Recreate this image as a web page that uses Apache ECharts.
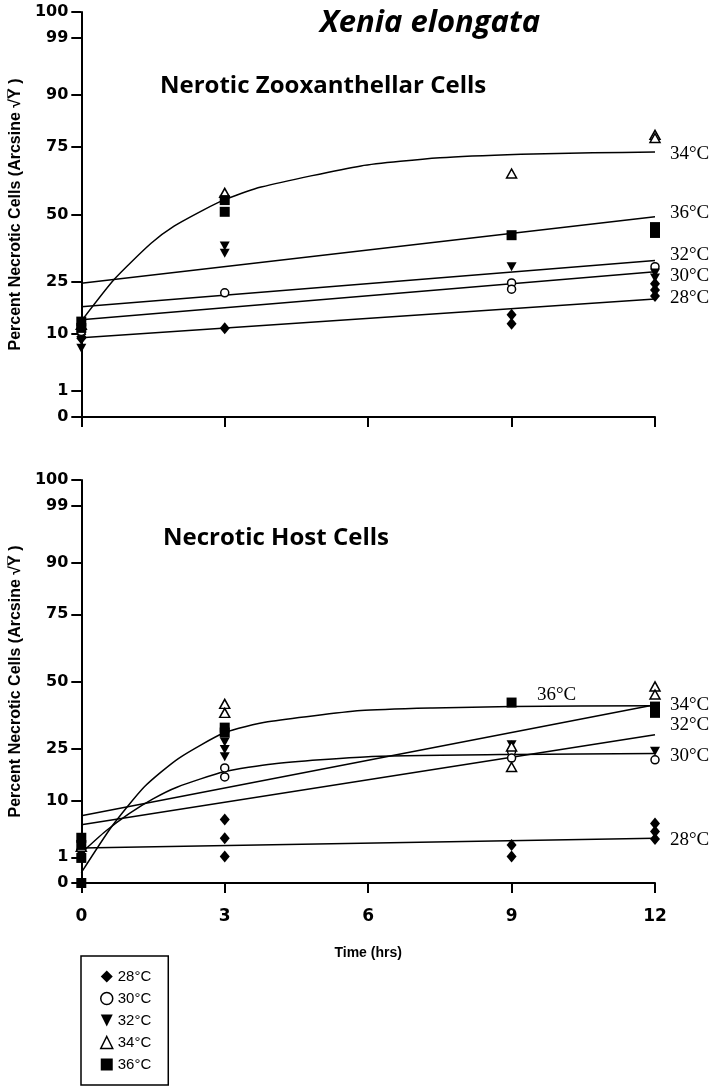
<!DOCTYPE html>
<html>
<head>
<meta charset="utf-8">
<script src="https://cdn.jsdelivr.net/npm/echarts@6/dist/echarts.min.js"></script>
<style>
html,body{margin:0;padding:0;background:#fff;}
#chart{width:718px;height:1092px;}
</style>
</head>
<body>
<div id="chart"></div>
<script>
// ---- Data (y values in arcsine-transformed degrees, as plotted) ----
const times = [0, 3, 9, 12];
const tickPercent = [0, 1, 10, 25, 50, 75, 90, 99, 100];
const temps = ['28°C', '30°C', '32°C', '34°C', '36°C'];

// Necrotic zooxanthellar cells (top panel): values per time point
const zoo28 = [[18.4, 17.5], [19.7], [22.7, 20.7], [29.6, 28.2, 26.9]];
const zoo30 = [[19.0], [27.6], [29.8, 28.4], [33.4]];
const zoo32 = [[15.3, 17.0], [38.0, 36.4], [33.4], [32.0, 30.9]];
const zoo34 = [[20.5], [49.8], [54.1], [62.7, 62.0]];
const zoo36 = [[21.2, 19.8], [48.2, 45.6], [40.4], [42.2, 40.9]];

// Fitted lines (top)
const fitT = [0, 12];
const zooFit28 = [17.6, 26.2];
const zooFit30 = [21.6, 32.3];
const zooFit32 = [24.5, 34.8];
const zooFit36 = [29.7, 44.5];
const zooFit34T = [0, 0.69, 1.46, 1.94, 2.57, 2.98, 3.76, 5.85, 7.5, 9.2, 10.7, 12];
const zooFit34 = [21.3, 30.6, 38.6, 42.4, 46.1, 48.2, 51.1, 55.8, 57.6, 58.4, 58.7, 58.9];

// Necrotic host cells (bottom panel)
const host28 = [[7.5], [14.2, 10.0, 5.9], [8.5, 5.9], [13.3, 11.5, 9.8]];
const host30 = [[7.4], [25.7, 23.7], [29.4, 27.9], [27.5]];
const host32 = [[6.5], [31.5, 29.8, 28.2], [30.9], [29.4]];
const host34 = [[8.1], [40.0, 38.0], [30.5, 25.9], [43.9, 42.1]];
const host36 = [[10.1, 8.5, 5.6, 0], [34.7, 33.6], [40.3], [39.4, 38.0]];

// Fitted lines (bottom)
const hostFit28 = [7.8, 10.0];
const hostFit32 = [13.0, 33.1];
const hostFit34 = [15.0, 39.8];
const hostFit36T = [0, 0.63, 1.32, 2.03, 3, 3.9, 5.85, 7.35, 9, 12];
const hostFit36 = [2.3, 12.5, 21.5, 27.8, 33.6, 36.0, 38.5, 39.1, 39.4, 39.6];
const hostFit30T = [0, 0.5, 1, 1.5, 2, 3, 4, 6, 9, 12];
const hostFit30 = [6.7, 11.5, 15.5, 18.8, 21.4, 24.9, 26.6, 28.2, 28.7, 28.9];

// ---- helpers ----
const toDeg = p => Math.asin(Math.sqrt(p / 100)) * 180 / Math.PI;
const tickPos = tickPercent.map(toDeg);
function labelFor(v) {
  let best = 0, bd = 1e9;
  tickPos.forEach((t, i) => { const d = Math.abs(t - v); if (d < bd) { bd = d; best = i; } });
  return String(tickPercent[best]);
}
function pts(groups) {
  const out = [];
  groups.forEach((g, i) => g.forEach(v => out.push([times[i], v])));
  return out;
}
function pairs(xs, ys) { return xs.map((x, i) => [x, ys[i]]); }

const symbols = {
  '28°C': { symbol: 'diamond', size: [10, 12], fill: '#000', rot: 0, icon: 'diamond' },
  '30°C': { symbol: 'circle', size: 8, fill: '#fff', rot: 0, icon: 'circle' },
  '32°C': { symbol: 'triangle', size: [10, 9], fill: '#000', rot: 180, icon: 'path://M0,0 L10,0 L5,10 Z' },
  '34°C': { symbol: 'triangle', size: [10, 9], fill: '#fff', rot: 0, icon: 'triangle' },
  '36°C': { symbol: 'rect', size: 10, fill: '#000', rot: 0, icon: 'rect' }
};

function scatter(name, data, idx) {
  const s = symbols[name];
  return {
    name, type: 'scatter', xAxisIndex: idx, yAxisIndex: idx, z: 4,
    symbol: s.symbol, symbolSize: s.size, symbolRotate: s.rot,
    itemStyle: { color: s.fill, borderColor: '#000', borderWidth: s.fill === '#fff' ? 1.5 : 0, opacity: 1 },
    data: pts(data), silent: true
  };
}
const labelFont = { fontFamily: 'Liberation Serif', fontSize: 19, color: '#000' };
function fitLine(id, xs, ys, idx, label, off, smooth) {
  return {
    name: id, type: 'line', xAxisIndex: idx, yAxisIndex: idx, z: 3,
    data: pairs(xs, ys), showSymbol: false, symbol: 'none',
    smooth: smooth ? 0.2 : false,
    lineStyle: { color: '#000', width: 1.5 }, silent: true,
    endLabel: Object.assign({ show: true, formatter: label, distance: 15, offset: off }, labelFont)
  };
}

function yAxis(idx) {
  return {
    gridIndex: idx, type: 'value', min: 0, max: 90,
    axisLine: { show: true, lineStyle: { color: '#000', width: 2 } },
    axisTick: { show: true, length: 10, customValues: tickPos, lineStyle: { color: '#000', width: 2 } },
    axisLabel: { customValues: tickPos, formatter: labelFor, fontFamily: 'DejaVu Sans', fontWeight: 'bold',
      fontSize: 16, color: '#000', margin: 13 },
    splitLine: { show: false },
    name: 'Percent Necrotic Cells (Arcsine √Y̅ )', nameLocation: 'middle', nameRotate: 90, nameGap: 54,
    nameTextStyle: { fontFamily: 'Liberation Sans', fontWeight: 'bold', fontSize: 16, color: '#000' }
  };
}
function xAxis(idx, showLabels) {
  return {
    gridIndex: idx, type: 'value', min: 0, max: 12, interval: 3,
    axisLine: { show: true, onZero: false, lineStyle: { color: '#000', width: 2 } },
    axisTick: { show: true, length: 10, lineStyle: { color: '#000', width: 2 } },
    axisLabel: { show: showLabels, fontFamily: 'DejaVu Sans', fontWeight: 'bold', fontSize: 17, color: '#000', margin: 25 },
    splitLine: { show: false },
    name: showLabels ? 'Time (hrs)' : '', nameLocation: 'middle', nameGap: 63,
    nameTextStyle: { fontFamily: 'Liberation Sans', fontWeight: 'bold', fontSize: 14, color: '#000' }
  };
}

const series = [
  scatter('28°C', zoo28, 0), scatter('30°C', zoo30, 0), scatter('32°C', zoo32, 0),
  scatter('34°C', zoo34, 0), scatter('36°C', zoo36, 0),
  scatter('28°C', host28, 1), scatter('30°C', host30, 1), scatter('32°C', host32, 1),
  scatter('34°C', host34, 1), scatter('36°C', host36, 1),
  fitLine('zf28', fitT, zooFit28, 0, '28°C', [0, -1], false),
  fitLine('zf30', fitT, zooFit30, 0, '30°C', [0, 4], false),
  fitLine('zf32', fitT, zooFit32, 0, '32°C', [0, -5], false),
  fitLine('zf36', fitT, zooFit36, 0, '36°C', [0, -4], false),
  fitLine('zf34', zooFit34T, zooFit34, 0, '34°C', [0, 2], true),
  fitLine('hf28', fitT, hostFit28, 1, '28°C', [0, 2], false),
  fitLine('hf32', fitT, hostFit32, 1, '32°C', [0, -10], false),
  fitLine('hf34', fitT, hostFit34, 1, '34°C', [0, 0], false),
  fitLine('hf36', hostFit36T, hostFit36, 1, '36°C', [-133, -11], true),
  fitLine('hf30', hostFit30T, hostFit30, 1, '30°C', [0, 2], true)
];

const legendData = temps.map(t => ({
  name: t, icon: symbols[t].icon,
  itemStyle: { color: symbols[t].fill, borderColor: '#000', borderWidth: symbols[t].fill === '#fff' ? 1.5 : 0 }
}));

const chart = echarts.init(document.getElementById('chart'), null, { renderer: 'canvas' });
chart.setOption({
  animation: false,
  backgroundColor: '#fff',
  title: [
    { text: 'Xenia elongata', left: 320, top: 8, padding: 0,
      textStyle: { fontFamily: 'Open Sans', fontStyle: 'italic', fontWeight: 'bold', fontSize: 31, color: '#000' } },
    { text: 'Nerotic Zooxanthellar Cells', left: 160, top: 74, padding: 0,
      textStyle: { fontFamily: 'Open Sans', fontWeight: 'bold', fontSize: 24, color: '#000' } },
    { text: 'Necrotic Host Cells', left: 163, top: 526, padding: 0,
      textStyle: { fontFamily: 'Open Sans', fontWeight: 'bold', fontSize: 24, color: '#000' } }
  ],
  grid: [
    { left: 80, top: 12, width: 575, height: 405 },
    { left: 80, top: 480, width: 575, height: 403 }
  ],
  xAxis: [xAxis(0, false), xAxis(1, true)],
  yAxis: [yAxis(0), yAxis(1)],
  legend: {
    orient: 'vertical', left: 81, top: 956,
    data: legendData, itemWidth: 12, itemHeight: 12, itemGap: 7, symbolRotate: 0,
    padding: [13, 17, 13, 19], borderColor: '#000', borderWidth: 1.5,
    textStyle: { fontFamily: 'Liberation Sans', fontSize: 15, color: '#000' },
    selectedMode: false
  },
  series
});
</script>
</body>
</html>
